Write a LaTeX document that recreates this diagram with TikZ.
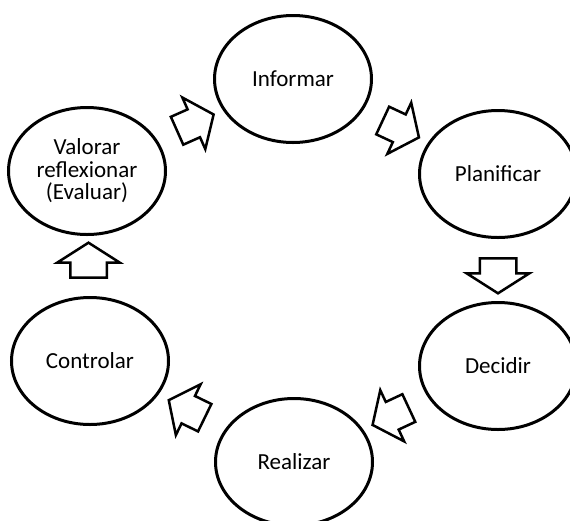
\documentclass[tikz,border=0pt]{standalone}
\usepackage{fontspec}
\setmainfont{Carlito}
\usepackage{tikz}
\usetikzlibrary{shapes.geometric,shapes.arrows,calc}
\tikzset{
  stage/.style={
    ellipse,
    draw,
    line width=3pt,
    minimum width=157pt,
    minimum height=127pt,
    inner sep=0pt,
    align=center,
    font=\fontsize{23}{22.5}\selectfont,
  },
  flow arrow/.style={
    single arrow,
    draw,
    line width=2.5pt,
    minimum height=40pt,
    inner xsep=0pt,
    inner ysep=14pt,
    single arrow head extend=13pt,
    single arrow tip angle=105,
    rotate=#1,
  },
  upright arrow/.style={
    flow arrow=#1,
    minimum height=35pt,
    inner ysep=17pt,
    single arrow tip angle=115,
  }
}

\begin{document}
\begin{tikzpicture}[x=1pt,y=1pt]
    \useasboundingbox (0,0) rectangle (570,-520);

    \node [stage] (inf) at (293,-79) {Informar};
    \node [stage] (pla) at (498,-174) {Planificar};
    \node [stage] (dec) at (498,-366) {Decidir};
    \node [stage] (rea) at (294,-462) {Realizar};
    \node [stage] (con) at (90,-361) {Controlar};
    \node [stage] (val) at (87,-171) {Valorar\\reflexionar\\(Evaluar)};

    \node [flow arrow=24] (a1) at ($(val)!0.5!(inf)$) {};
    \node [flow arrow=-25] (a2) at ($(inf)!0.5!(pla)$) {};
    \node [upright arrow=-90] (a3) at ($(pla)!0.5!(dec)$) {};
    \node [flow arrow=205] (a4) at ($(dec)!0.5!(rea)$) {};
    \node [flow arrow=154] (a5) at ($(rea)!0.5!(con)$) {};
    \node [upright arrow=90] (a6) at ($(con)!0.5!(val)$) {};
\end{tikzpicture}
\end{document}
